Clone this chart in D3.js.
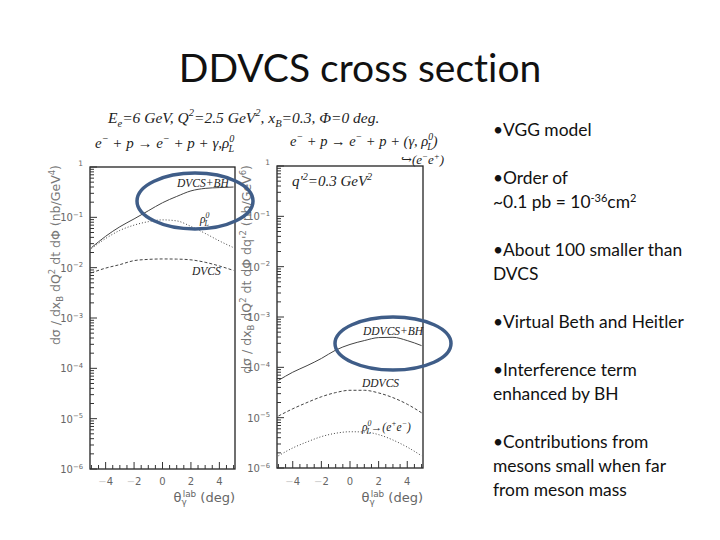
<!DOCTYPE html>
<html>
<head>
<meta charset="utf-8">
<script src="https://cdn.jsdelivr.net/npm/d3@7"></script>
<style>
  body { margin: 0; background: #fff; }
  svg { display: block; }
  text { font-variant-ligatures: none; font-feature-settings: "liga" 0; }
</style>
</head>
<body>
<script>
// values (x = photon lab angle in deg)
const angles = [-5, -4, -3, -2, -1, 0, 1, 2, 3, 4, 5];

// left panel : DVCS kinematics (nb/GeV^4)
const dvcsBH = [0.025, 0.042, 0.065, 0.093, 0.135, 0.195, 0.26, 0.335, 0.376, 0.39, 0.40];
const rhoL   = [0.024, 0.038, 0.055, 0.07, 0.082, 0.089, 0.085, 0.066, 0.048, 0.034, 0.025];
const dvcs   = [0.0079, 0.0098, 0.0115, 0.0138, 0.0146, 0.0149, 0.0148, 0.0143, 0.0128, 0.0108, 0.0088];

// right panel : DDVCS, q'^2 = 0.3 GeV^2 (nb/GeV^6)
const ddvcsBH = [5.5e-5, 8e-5, 1.08e-4, 1.5e-4, 2.2e-4, 2.85e-4, 3.4e-4, 3.9e-4, 3.95e-4, 3.4e-4, 2.7e-4];
const ddvcs   = [1.08e-5, 1.5e-5, 2.0e-5, 2.6e-5, 3.15e-5, 3.5e-5, 3.5e-5, 3.1e-5, 2.5e-5, 1.85e-5, 1.25e-5];
const rhoEE   = [1.75e-6, 2.5e-6, 3.3e-6, 4.2e-6, 4.9e-6, 5.25e-6, 5.2e-6, 4.6e-6, 3.6e-6, 2.6e-6, 1.75e-6];

const yDecades = [0, -1, -2, -3, -4, -5, -6];
const xTickLabels = [-4, -2, 0, 2, 4];

const bullets = [
  ["•VGG model"],
  ["•Order of", "~0.1 pb = 10^-36cm^2"],
  ["•About 100 smaller than", "DVCS"],
  ["•Virtual Beth and Heitler"],
  ["•Interference term", "enhanced by BH"],
  ["•Contributions from", "mesons small when far", "from meson mass"]
];

const W = 720, H = 540;
const svg = d3.select("body").append("svg").attr("width", W).attr("height", H);

const SERIF = "'Liberation Serif', 'DejaVu Serif', serif";
const SANS = "'DejaVu Sans', 'Liberation Sans', sans-serif";
const SLIDE = "Lato, 'Open Sans', 'Liberation Sans', sans-serif";

// title
svg.append("text")
  .attr("x", 360).attr("y", 82)
  .attr("text-anchor", "middle")
  .attr("font-family", SLIDE).attr("font-size", 39)
  .attr("fill", "#111")
  .text("DDVCS cross section");

// rich text helper: parts = [[text, "sup"|"sub"|"", dx], ...]
function rich(sel, parts, size) {
  let shift = 0;
  parts.forEach(p => {
    const kind = p[1] || "";
    let target = 0;
    if (kind == "sup") target = -size * 0.42;
    if (kind == "sub") target = size * 0.25;
    const ts = sel.append("tspan")
      .attr("dy", target - shift)
      .attr("font-size", kind ? size * 0.68 : size)
      .text(p[0]);
    if (p[2]) ts.attr("dx", p[2]);
    shift = target;
  });
  return sel;
}

// header of the physics figure
rich(svg.append("text").attr("x", 108).attr("y", 123)
  .attr("font-family", SERIF).attr("font-style", "italic").attr("fill", "#222"),
  [["E"], ["e", "sub"], ["=6 GeV, Q"], ["2", "sup"], ["=2.5 GeV"], ["2", "sup"],
   [", x"], ["B", "sub"], ["=0.3, Φ=0 deg."]], 15.5);

rich(svg.append("text").attr("x", 95).attr("y", 148)
  .attr("font-family", SERIF).attr("font-style", "italic").attr("fill", "#222"),
  [["e"], ["−", "sup"], [" + p → e"], ["−", "sup"], [" + p + γ,ρ"], ["0", "sup"], ["L", "sub", -6]], 15);

rich(svg.append("text").attr("x", 290).attr("y", 146)
  .attr("font-family", SERIF).attr("font-style", "italic").attr("fill", "#222"),
  [["e"], ["−", "sup"], [" + p → e"], ["−", "sup"], [" + p + (γ, ρ"], ["0", "sup"], ["L", "sub", -6], [")"]], 14.5);

rich(svg.append("text").attr("x", 401).attr("y", 164)
  .attr("font-family", SERIF).attr("font-style", "italic").attr("fill", "#222"),
  [["↪(e"], ["−", "sup"], ["e"], ["+", "sup"], [")"]], 13);

// panels
const panels = [
  { x0: 90, x1: 235, y0: 167, y1: 469,
    series: [[dvcsBH, "none"], [rhoL, "1,2"], [dvcs, "3,2"]],
    labels: [
      { x: 177, y: 187, parts: [["DVCS+BH"]] },
      { x: 200, y: 223, parts: [["ρ"], ["0", "sup"], ["L", "sub", -5]] },
      { x: 192, y: 275, parts: [["DVCS"]] }
    ],
    ytitle: [["dσ / dx"], ["B", "sub"], [" dQ"], ["2", "sup"], [" dt dΦ  (nb/GeV"], ["4", "sup"], [")"]],
    ytx: 60 },
  { x0: 277, x1: 423, y0: 166, y1: 468,
    series: [[ddvcsBH, "none"], [ddvcs, "3,2"], [rhoEE, "1,2"]],
    labels: [
      { x: 363, y: 335, parts: [["DDVCS+BH"]] },
      { x: 362, y: 387, parts: [["DDVCS"]] },
      { x: 362, y: 431, parts: [["ρ"], ["0", "sup"], ["L", "sub", -5], ["→(e"], ["+", "sup"], ["e"], ["−", "sup"], [")"]] }
    ],
    ytitle: [["dσ / dx"], ["B", "sub"], [" dQ"], ["2", "sup"], [" dt dΦ dq'"], ["2", "sup"], ["  (nb/GeV"], ["6", "sup"], [")"]],
    ytx: 251 }
];

panels.forEach((p, pi) => {
  const x = d3.scaleLinear().domain([-5.1, 5.1]).range([p.x0, p.x1]);
  const y = d3.scaleLog().domain([1e-6, 1]).range([p.y1, p.y0]);
  const g = svg.append("g");

  // frame
  g.append("rect")
    .attr("x", p.x0).attr("y", p.y0)
    .attr("width", p.x1 - p.x0).attr("height", p.y1 - p.y0)
    .attr("fill", "none").attr("stroke", "#222").attr("stroke-width", 1.3);

  // log ticks on the left edge
  const yt = [];
  for (let k = -6; k < 0; k++)
    for (let m = 1; m < 10; m++) yt.push({ v: m * Math.pow(10, k), major: m == 1 });
  yt.push({ v: 1, major: true });
  g.selectAll(".yt").data(yt).join("line")
    .attr("x1", p.x0).attr("x2", d => p.x0 + (d.major ? 7 : 4))
    .attr("y1", d => y(d.v)).attr("y2", d => y(d.v))
    .attr("stroke", "#333").attr("stroke-width", 1);

  // bottom ticks
  const xt = d3.range(-5, 5.01, 0.5);
  g.selectAll(".xt").data(xt).join("line")
    .attr("x1", d => x(d)).attr("x2", d => x(d))
    .attr("y1", p.y1).attr("y2", d => p.y1 - (d % 2 == 0 ? 7 : 4))
    .attr("stroke", "#333").attr("stroke-width", 1);

  // y tick labels
  yDecades.forEach(k => {
    const t = g.append("text")
      .attr("x", p.x0 - 7).attr("y", y(Math.pow(10, k)) + 4)
      .attr("text-anchor", "end")
      .attr("font-family", SANS).attr("fill", "#666");
    if (k == 0) rich(t, [["1", "sup"]], 11);
    else rich(t, [["10"], ["−" + (-k), "sup"]], 10);
  });

  // x tick labels (minus signs are faded in the scan)
  g.selectAll(".xl").data(xTickLabels).join("text")
    .attr("x", d => x(d)).attr("y", 485)
    .attr("text-anchor", "middle")
    .attr("font-family", SANS).attr("font-size", 10).attr("fill", "#666")
    .each(function (d) {
      const t = d3.select(this);
      if (d < 0) t.append("tspan").attr("fill", "#ccc").text("−");
      t.append("tspan").text(Math.abs(d));
    });

  // x title
  rich(g.append("text").attr("x", p.x1).attr("y", 502)
    .attr("text-anchor", "end")
    .attr("font-family", SANS).attr("fill", "#666"),
    [["θ"], ["γ", "sub"], ["lab", "sup", -4], [" (deg)"]], 13);

  // y title
  rich(g.append("text")
    .attr("transform", `translate(${p.ytx},165) rotate(-90)`)
    .attr("text-anchor", "end")
    .attr("font-family", SANS).attr("fill", "#777"),
    p.ytitle, 12.5);

  // curves
  const line = d3.line()
    .x((d, i) => x(angles[i]))
    .y(d => y(d))
    .curve(d3.curveMonotoneX);
  p.series.forEach(s => {
    g.append("path")
      .attr("d", line(s[0]))
      .attr("fill", "none")
      .attr("stroke", "#444").attr("stroke-width", 1)
      .attr("stroke-dasharray", s[1]);
  });

  // curve labels
  p.labels.forEach(l => {
    rich(g.append("text").attr("x", l.x).attr("y", l.y)
      .attr("font-family", SERIF).attr("font-style", "italic").attr("fill", "#222"),
      l.parts, 11.5);
  });
});

// q'^2 label in right panel
rich(svg.append("text").attr("x", 292).attr("y", 186)
  .attr("font-family", SERIF).attr("font-style", "italic").attr("fill", "#222"),
  [["q'"], ["2", "sup"], ["=0.3 GeV"], ["2", "sup"]], 15);

// hand drawn ellipses
const ellipses = [
  { cx: 195, cy: 201, rx: 58, ry: 28 },
  { cx: 393, cy: 343.5, rx: 58, ry: 26.5 }
];
svg.selectAll(".ell").data(ellipses).join("ellipse")
  .attr("cx", d => d.cx).attr("cy", d => d.cy)
  .attr("rx", d => d.rx).attr("ry", d => d.ry)
  .attr("fill", "none").attr("stroke", "#3f5d88").attr("stroke-width", 3.5);

// bullet text
const bt = svg.append("text")
  .attr("font-family", SLIDE).attr("font-size", 17.4).attr("fill", "#111");
let by = 136;
bullets.forEach(b => {
  b.forEach(line => {
    const t = bt.append("tspan").attr("x", 493).attr("y", by);
    if (line.indexOf("^") < 0) t.text(line);
    else {
      // ~0.1 pb = 10^-36cm^2
      const parts = line.split(/\^(-?\d+)/);
      parts.forEach((s, i) => {
        const sup = i % 2 == 1;
        t.append("tspan")
          .attr("dy", sup ? -6 : (i > 0 ? 6 : 0))
          .attr("font-size", sup ? 11 : 17.4)
          .text(s);
      });
    }
    by += 24;
  });
  by += 24;
});
</script>
</body>
</html>
